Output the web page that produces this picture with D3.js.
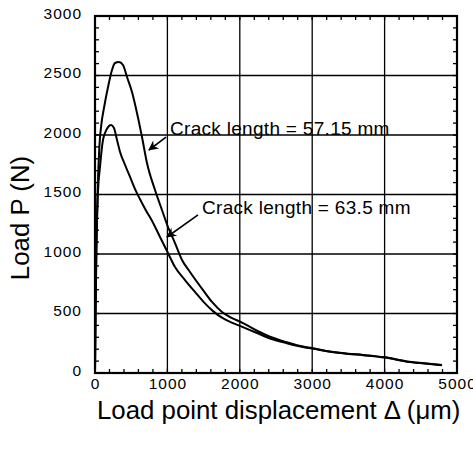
<!DOCTYPE html>
<html>
<head>
<meta charset="utf-8">
<script src="https://cdn.jsdelivr.net/npm/d3@7"></script>
<style>
  body { margin: 0; background: #fff; }
  text { font-family: Arial, "Liberation Sans", sans-serif; fill: #000; }
</style>
</head>
<body>
<script>
// ticks
const xTicks = [0, 1000, 2000, 3000, 4000, 5000];
const yTicks = [0, 500, 1000, 1500, 2000, 2500, 3000];

// crack length = 57.15 mm
const dispA = [0, 8, 18, 35, 60, 90, 124, 180, 235, 276, 331, 387, 442, 511, 580, 649, 718, 829, 925, 1008, 1105, 1202, 1312, 1492, 1616, 1754, 1865, 2044, 2238, 2417, 2652, 2873, 2997, 3246, 3500, 3702, 4006, 4309, 4550, 4793];
const loadA = [0, 500, 1000, 1500, 1900, 2100, 2227, 2403, 2546, 2605, 2613, 2588, 2487, 2361, 2185, 1983, 1765, 1538, 1370, 1227, 1092, 950, 849, 697, 597, 513, 470, 420, 355, 305, 258, 222, 210, 180, 162, 152, 132, 97, 82, 68];

// crack length = 63.5 mm
const dispB = [0, 8, 18, 40, 69, 110, 138, 180, 221, 262, 304, 345, 414, 483, 550, 622, 700, 787, 898, 1008, 1105, 1243, 1381, 1519, 1630, 1754, 1865, 2044, 2238, 2417, 2652, 2873, 2997, 3246, 3500, 3702, 4006, 4309, 4550, 4793];
const loadB = [0, 500, 1000, 1500, 1731, 1958, 2017, 2067, 2084, 2059, 1958, 1860, 1750, 1650, 1550, 1460, 1370, 1280, 1143, 1008, 890, 781, 681, 585, 520, 465, 430, 385, 336, 290, 250, 218, 206, 178, 160, 150, 130, 95, 80, 66];

// annotations: label position and arrow (from -> to), in data units
const labels = ["Crack length = 57.15 mm", "Crack length = 63.5 mm"];
const labelX = [1036, 1478];
const labelY = [2000, 1336];
const arrowFromX = [981, 1423];
const arrowFromY = [1983, 1328];
const arrowToX = [746, 994];
const arrowToY = [1874, 1143];

const W = 473, H = 449;
const margin = { top: 16, right: 16, bottom: 76, left: 95 };
const width = W - margin.left - margin.right,
      height = H - margin.top - margin.bottom;

const svg = d3.select("body").append("svg")
  .attr("width", W)
  .attr("height", H);

const g = svg.append("g")
  .attr("transform", "translate(" + margin.left + "," + margin.top + ")");

const x = d3.scaleLinear().domain([0, 5000]).range([0, width]);
const y = d3.scaleLinear().domain([0, 3000]).range([height, 0]);

// grid
g.append("g").selectAll("line").data(xTicks.slice(1, -1)).join("line")
  .attr("x1", d => x(d)).attr("x2", d => x(d))
  .attr("y1", 0).attr("y2", height)
  .attr("stroke", "#000").attr("stroke-width", 1.3);
g.append("g").selectAll("line").data(yTicks.slice(1, -1)).join("line")
  .attr("y1", d => y(d)).attr("y2", d => y(d))
  .attr("x1", 0).attr("x2", width)
  .attr("stroke", "#000").attr("stroke-width", 1.3);

// minor ticks, inward on all sides
const xMinor = d3.range(200, 5000, 200);
const yMinor = d3.range(100, 3000, 100);
const tickLen = 4;
g.append("g").selectAll("line").data(xMinor).join("line")
  .attr("x1", d => x(d)).attr("x2", d => x(d))
  .attr("y1", height).attr("y2", height - tickLen)
  .attr("stroke", "#000").attr("stroke-width", 1.3);
g.append("g").selectAll("line").data(xMinor).join("line")
  .attr("x1", d => x(d)).attr("x2", d => x(d))
  .attr("y1", 0).attr("y2", tickLen)
  .attr("stroke", "#000").attr("stroke-width", 1.3);
g.append("g").selectAll("line").data(yMinor).join("line")
  .attr("y1", d => y(d)).attr("y2", d => y(d))
  .attr("x1", 0).attr("x2", tickLen)
  .attr("stroke", "#000").attr("stroke-width", 1.3);
g.append("g").selectAll("line").data(yMinor).join("line")
  .attr("y1", d => y(d)).attr("y2", d => y(d))
  .attr("x1", width).attr("x2", width - tickLen)
  .attr("stroke", "#000").attr("stroke-width", 1.3);

// frame
g.append("rect")
  .attr("width", width).attr("height", height)
  .attr("fill", "none").attr("stroke", "#000").attr("stroke-width", 2.2);

// axes labels (no domain, no ticks)
const axX = g.append("g")
  .attr("transform", "translate(0," + height + ")")
  .call(d3.axisBottom(x).tickValues(xTicks).tickSize(0).tickPadding(5).tickFormat(d3.format("d")));
const axY = g.append("g")
  .call(d3.axisLeft(y).tickValues(yTicks).tickSize(0).tickPadding(13).tickFormat(d3.format("d")));
[axX, axY].forEach(a => {
  a.select(".domain").remove();
  a.selectAll("text")
    .style("font-family", "Arial, 'Liberation Sans', sans-serif")
    .style("font-size", "15.5px")
    .style("letter-spacing", "1px")
    .attr("fill", "#000");
});
axY.selectAll("text").attr("dy", "0.15em");

// curves
const line = d3.line().curve(d3.curveMonotoneX);
const seriesA = dispA.map((d, i) => [x(d), y(loadA[i])]);
const seriesB = dispB.map((d, i) => [x(d), y(loadB[i])]);
[seriesA, seriesB].forEach(s => {
  g.append("path")
    .attr("d", line(s))
    .attr("fill", "none")
    .attr("stroke", "#000")
    .attr("stroke-width", 2)
    .attr("stroke-linejoin", "round");
});

// arrows
svg.append("defs").append("marker")
  .attr("id", "head")
  .attr("viewBox", "0 0 10 10")
  .attr("refX", 9).attr("refY", 5)
  .attr("markerWidth", 12).attr("markerHeight", 10)
  .attr("markerUnits", "userSpaceOnUse")
  .attr("orient", "auto")
  .append("path").attr("d", "M0,0 L10,5 L0,10 L3,5 Z").attr("fill", "#000");

labels.forEach((t, i) => {
  g.append("line")
    .attr("x1", x(arrowFromX[i])).attr("y1", y(arrowFromY[i]))
    .attr("x2", x(arrowToX[i])).attr("y2", y(arrowToY[i]))
    .attr("stroke", "#000").attr("stroke-width", 1.6)
    .attr("marker-end", "url(#head)");
  g.append("text")
    .attr("x", x(labelX[i])).attr("y", y(labelY[i]))
    .style("font-size", "19px")
    .style("letter-spacing", "0.3px")
    .text(t);
});

// axis titles
svg.append("text")
  .attr("x", 97).attr("y", 419)
  .style("font-size", "25.8px")
  .text("Load point displacement Δ (μm)");
svg.append("text")
  .attr("transform", "translate(29,218) rotate(-90)")
  .attr("text-anchor", "middle")
  .style("font-size", "25.8px")
  .text("Load P (N)");
</script>
</body>
</html>
